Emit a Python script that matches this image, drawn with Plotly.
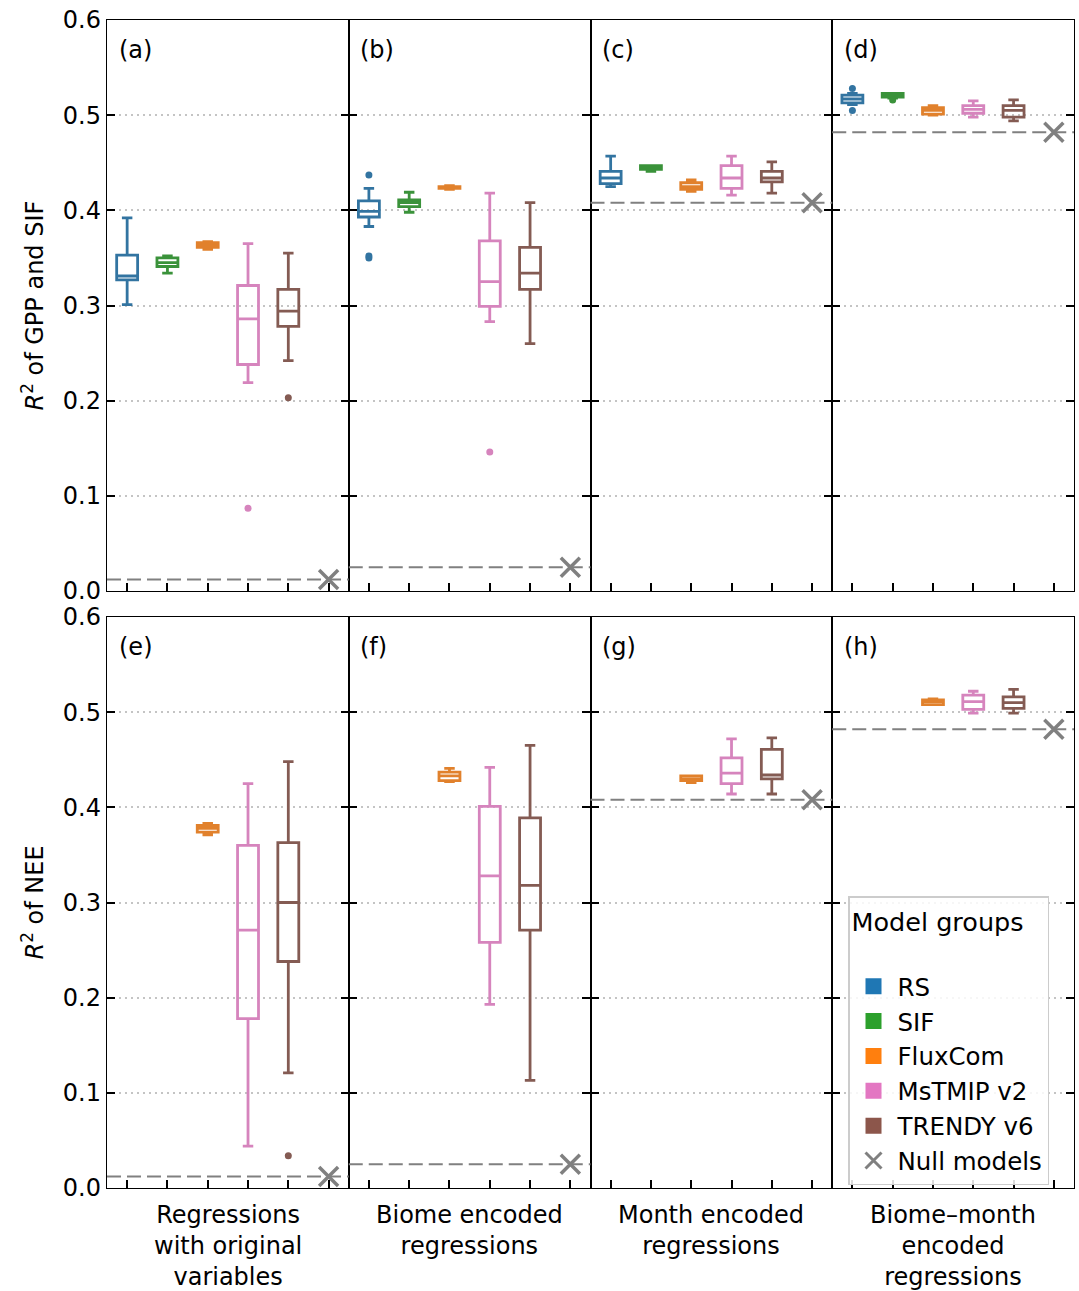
import plotly.graph_objects as go
from plotly.subplots import make_subplots

groups = ["RS", "SIF", "FluxCom", "MsTMIP v2", "TRENDY v6"]
box_colors = ["#3274a1", "#3a923a", "#e1812c", "#d684bd", "#845b53"]
legend_colors = ["#1f77b4", "#2ca02c", "#ff7f0e", "#e377c2", "#8c564b"]
panel_labels = ["(a)", "(b)", "(c)", "(d)", "(e)", "(f)", "(g)", "(h)"]
column_labels = ["Regressions<br>with original<br>variables",
                 "Biome encoded<br>regressions",
                 "Month encoded<br>regressions",
                 "Biome\u2013month<br>encoded<br>regressions"]
row_titles = ["<i>R</i><sup>2</sup> of GPP and SIF", "<i>R</i><sup>2</sup> of NEE"]

# statistics per panel (a..h), per group (RS, SIF, FluxCom, MsTMIP v2, TRENDY v6)
lower = [[0.301, 0.334, 0.359, 0.219, 0.242],
         [0.383, 0.398, 0.422, 0.283, 0.260],
         [0.425, 0.441, 0.420, 0.416, 0.418],
         [0.511, 0.518, 0.500, 0.498, 0.494],
         [None, None, 0.371, 0.044, 0.121],
         [None, None, 0.427, 0.193, 0.113],
         [None, None, 0.426, 0.414, 0.414],
         [None, None, 0.508, 0.499, 0.499]]
q1 = [[0.327, 0.341, 0.361, 0.238, 0.278],
      [0.393, 0.404, 0.423, 0.299, 0.317],
      [0.428, 0.443, 0.422, 0.423, 0.430],
      [0.513, 0.519, 0.501, 0.502, 0.498],
      [None, None, 0.374, 0.178, 0.238],
      [None, None, 0.428, 0.258, 0.271],
      [None, None, 0.428, 0.425, 0.430],
      [None, None, 0.508, 0.503, 0.504]]
median = [[0.331, 0.345, 0.364, 0.286, 0.294],
          [0.399, 0.408, 0.424, 0.325, 0.334],
          [0.434, 0.445, 0.425, 0.434, 0.434],
          [0.517, 0.521, 0.505, 0.506, 0.505],
          [None, None, 0.378, 0.271, 0.300],
          [None, None, 0.433, 0.328, 0.318],
          [None, None, 0.430, 0.436, 0.434],
          [None, None, 0.511, 0.511, 0.510]]
q3 = [[0.353, 0.350, 0.366, 0.321, 0.317],
      [0.410, 0.411, 0.425, 0.368, 0.361],
      [0.441, 0.447, 0.429, 0.447, 0.441],
      [0.521, 0.523, 0.508, 0.510, 0.510],
      [None, None, 0.381, 0.360, 0.363],
      [None, None, 0.437, 0.401, 0.389],
      [None, None, 0.433, 0.452, 0.461],
      [None, None, 0.513, 0.518, 0.516]]
upper = [[0.392, 0.352, 0.367, 0.365, 0.355],
         [0.423, 0.419, 0.426, 0.418, 0.408],
         [0.457, 0.447, 0.432, 0.457, 0.451],
         [0.523, 0.523, 0.510, 0.515, 0.516],
         [None, None, 0.383, 0.425, 0.448],
         [None, None, 0.441, 0.442, 0.465],
         [None, None, 0.433, 0.472, 0.473],
         [None, None, 0.514, 0.522, 0.524]]
outliers = [[[], [], [], [0.087], [0.203]],
            [[0.437, 0.352, 0.350], [], [], [0.146], []],
            [[], [], [], [], []],
            [[0.528, 0.505], [0.516], [], [], []],
            [[], [], [], [], [0.034]],
            [[], [], [], [], []],
            [[], [], [], [], []],
            [[], [], [], [], []]]
null_models = [0.012, 0.025, 0.408, 0.482, 0.012, 0.025, 0.408, 0.482]
null_label = "Null models"

FONT = "DejaVu Sans"
W, H = 1079, 1291
ML, MR, MT, MB = 107, 5, 20, 103
PLOT_H = H - MT - MB
PLOT_W = W - ML - MR

fig = make_subplots(rows=2, cols=4, horizontal_spacing=0, vertical_spacing=26 / PLOT_H)

for p in range(8):
    r, c = p // 4 + 1, p % 4 + 1
    for g in range(5):
        if median[p][g] is None:
            continue
        fig.add_trace(go.Box(
            x=[g], q1=[q1[p][g]], median=[median[p][g]], q3=[q3[p][g]],
            lowerfence=[lower[p][g]], upperfence=[upper[p][g]],
            width=0.52, boxpoints=False, showlegend=False,
            line=dict(color=box_colors[g], width=2.8),
            fillcolor="rgba(255,255,255,0)", hoverinfo="skip"), row=r, col=c)
        if outliers[p][g]:
            fig.add_trace(go.Scatter(
                x=[g] * len(outliers[p][g]), y=outliers[p][g], mode="markers",
                marker=dict(color=box_colors[g], size=7), showlegend=False,
                hoverinfo="skip"), row=r, col=c)
    fig.add_hline(y=null_models[p], line=dict(color="#808080", width=2, dash="14px,6px"),
                  row=r, col=c)
    fig.add_trace(go.Scatter(
        x=[5], y=[null_models[p]], mode="markers",
        marker=dict(symbol="x-thin", size=19, line=dict(width=3.5, color="#808080")),
        showlegend=False, hoverinfo="skip"), row=r, col=c)
    fig.add_annotation(text=panel_labels[p], xref="x domain", yref="y domain",
                       x=0.04, y=0.947, xanchor="left", yanchor="middle",
                       showarrow=False, font=dict(size=24, color="black", family=FONT),
                       row=r, col=c)

# legend entries
for g in range(5):
    fig.add_trace(go.Scatter(x=[None], y=[None], mode="markers", name=groups[g],
                             marker=dict(symbol="square", size=20, color=legend_colors[g]),
                             showlegend=True), row=1, col=1)
fig.add_trace(go.Scatter(x=[None], y=[None], mode="markers", name=null_label,
                         marker=dict(symbol="x-thin", size=18,
                                     line=dict(width=3, color="#808080")),
                         showlegend=True), row=1, col=1)

fig.update_xaxes(range=[-0.5, 5.5], tickvals=[0, 1, 2, 3, 4, 5], showticklabels=False,
                 ticks="inside", ticklen=8, tickwidth=1.5, tickcolor="black",
                 showline=True, linecolor="black", linewidth=1.4, mirror=True,
                 showgrid=False, zeroline=False)
fig.update_yaxes(range=[0, 0.6], tickvals=[0, 0.1, 0.2, 0.3, 0.4, 0.5, 0.6],
                 tickformat=".1f", ticks="inside", ticklen=8, tickwidth=1.5,
                 tickcolor="black", showline=True, linecolor="black", linewidth=1.4,
                 mirror="ticks", showgrid=True, gridcolor="#c4c4c4", gridwidth=1.5,
                 griddash="2px,4px", zeroline=False, showticklabels=False,
                 ticklabeloverflow="allow",
                 tickfont=dict(size=24, color="black", family=FONT))
fig.update_yaxes(showticklabels=True, col=1)

for c in range(4):
    fig.add_annotation(text=column_labels[c], xref="paper", yref="paper",
                       x=(c + 0.5) / 4, y=0, xanchor="center", yanchor="top", yshift=-11,
                       showarrow=False, align="center",
                       font=dict(size=24, color="black", family=FONT))
half_gap = 13 / PLOT_H
for r in range(2):
    fig.add_annotation(text=row_titles[r], xref="paper", yref="paper",
                       x=0, y=[0.75 + half_gap / 2, 0.25 - half_gap / 2][r], xshift=-75,
                       xanchor="center", yanchor="middle", textangle=-90,
                       showarrow=False, font=dict(size=24, color="black", family=FONT))

fig.update_layout(
    width=W, height=H, margin=dict(l=ML, r=MR, t=MT, b=MB, autoexpand=False),
    paper_bgcolor="white", plot_bgcolor="white", boxmode="overlay",
    font=dict(family=FONT, size=24, color="black"),
    legend=dict(x=(848 - 107) / PLOT_W, y=(1188 - 896) / PLOT_H,
                xanchor="left", yanchor="top",
                bgcolor="rgba(255,255,255,0.85)", bordercolor="#cccccc", borderwidth=1.5,
                title=dict(text="Model groups<br> ", font=dict(size=25.5, family=FONT)),
                font=dict(size=24.5, family=FONT, color="black"), tracegroupgap=0,
                itemwidth=38),
)

fig.write_html("out.html", config={"displayModeBar": False},
               post_script="document.body.style.margin='0';"
                           "document.body.style.overflow='hidden';")
